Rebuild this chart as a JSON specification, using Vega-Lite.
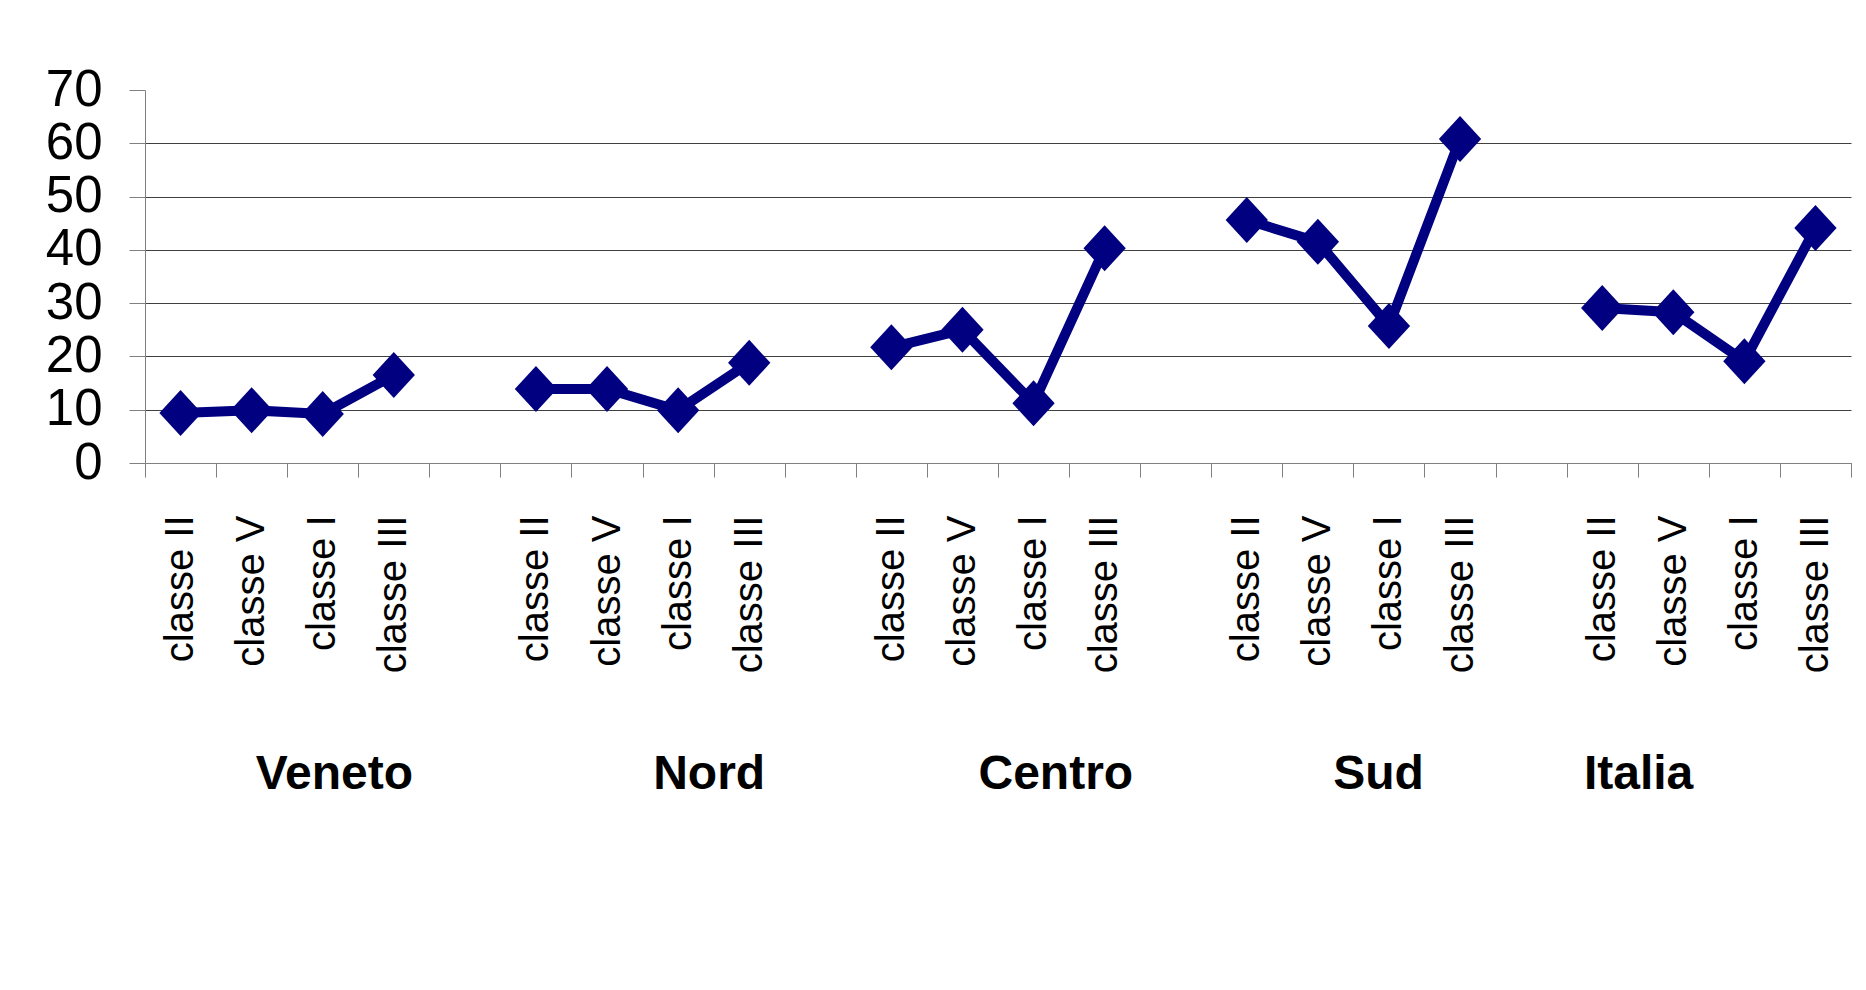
{
  "$schema": "https://vega.github.io/schema/vega-lite/v6.json",
  "width": 1706,
  "height": 373,
  "autosize": {"type": "none"},
  "padding": {"left": 145, "top": 90, "right": 15, "bottom": 527},
  "background": "white",
  "config": {"view": {"stroke": null}, "font": "Liberation Sans"},
  "data": {
    "values": [
      {"cat": "Veneto|classe II", "region": "Veneto", "val": 9.4},
      {"cat": "Veneto|classe V", "region": "Veneto", "val": 9.9},
      {"cat": "Veneto|classe I", "region": "Veneto", "val": 9.2},
      {"cat": "Veneto|classe III", "region": "Veneto", "val": 16.5},
      {"cat": "Nord|classe II", "region": "Nord", "val": 13.9},
      {"cat": "Nord|classe V", "region": "Nord", "val": 13.9},
      {"cat": "Nord|classe I", "region": "Nord", "val": 9.9},
      {"cat": "Nord|classe III", "region": "Nord", "val": 18.8},
      {"cat": "Centro|classe II", "region": "Centro", "val": 21.7},
      {"cat": "Centro|classe V", "region": "Centro", "val": 25.0},
      {"cat": "Centro|classe I", "region": "Centro", "val": 11.2},
      {"cat": "Centro|classe III", "region": "Centro", "val": 40.3},
      {"cat": "Sud|classe II", "region": "Sud", "val": 45.6},
      {"cat": "Sud|classe V", "region": "Sud", "val": 41.5},
      {"cat": "Sud|classe I", "region": "Sud", "val": 25.7},
      {"cat": "Sud|classe III", "region": "Sud", "val": 60.8},
      {"cat": "Italia|classe II", "region": "Italia", "val": 29.1},
      {"cat": "Italia|classe V", "region": "Italia", "val": 28.3},
      {"cat": "Italia|classe I", "region": "Italia", "val": 19.1},
      {"cat": "Italia|classe III", "region": "Italia", "val": 44.1}
    ]
  },
  "encoding": {
    "x": {
      "field": "cat",
      "type": "nominal",
      "sort": null,
      "scale": {
        "type": "band",
        "paddingInner": 0,
        "paddingOuter": 0,
        "domain": [
          "Veneto|classe II", "Veneto|classe V", "Veneto|classe I", "Veneto|classe III", "gap1",
          "Nord|classe II", "Nord|classe V", "Nord|classe I", "Nord|classe III", "gap2",
          "Centro|classe II", "Centro|classe V", "Centro|classe I", "Centro|classe III", "gap3",
          "Sud|classe II", "Sud|classe V", "Sud|classe I", "Sud|classe III", "gap4",
          "Italia|classe II", "Italia|classe V", "Italia|classe I", "Italia|classe III"
        ]
      },
      "axis": {
        "title": "Veneto\u00a0\u00a0\u00a0\u00a0\u00a0\u00a0\u00a0\u00a0\u00a0\u00a0\u00a0\u00a0\u00a0\u00a0\u00a0\u00a0\u00a0\u00a0Nord\u00a0\u00a0\u00a0\u00a0\u00a0\u00a0\u00a0\u00a0\u00a0\u00a0\u00a0\u00a0\u00a0\u00a0\u00a0\u00a0Centro\u00a0\u00a0\u00a0\u00a0\u00a0\u00a0\u00a0\u00a0\u00a0\u00a0\u00a0\u00a0\u00a0\u00a0\u00a0Sud\u00a0\u00a0\u00a0\u00a0\u00a0\u00a0\u00a0\u00a0\u00a0\u00a0\u00a0\u00a0Italia",
        "titleFontSize": 48,
        "titleFontWeight": "bold",
        "titleFont": "Liberation Sans",
        "titleColor": "black",
        "titleX": 829,
        "titleY": 325,
        "titleAlign": "center",
        "titleBaseline": "alphabetic",
        "labelExpr": "indexof(datum.label, '|') >= 0 ? split(datum.label, '|')[1] : ''",
        "labelAngle": -90,
        "labelFontSize": 40,
        "labelColor": "black",
        "labelPadding": 38,
        "labelOverlap": false,
        "labelBound": false,
        "tickSize": 14,
        "tickBand": "extent",
        "tickColor": "#808080",
        "domainColor": "#808080",
        "grid": false
      }
    },
    "y": {
      "field": "val",
      "type": "quantitative",
      "scale": {"domain": [0, 70], "nice": false, "zero": true},
      "axis": {
        "title": null,
        "values": [0, 10, 20, 30, 40, 50, 60, 70],
        "labelFontSize": 51,
        "labelColor": "black",
        "labelPadding": 27,
        "labelOverlap": false,
        "labelBound": false,
        "labelFlush": false,
        "tickSize": 16,
        "tickColor": "#808080",
        "domainColor": "#808080",
        "grid": true,
        "gridColor": "#404040",
        "gridOpacity": {"condition": {"test": "datum.value === 70", "value": 0}, "value": 1}
      }
    }
  },
  "layer": [
    {
      "mark": {"type": "line", "color": "#000080", "strokeWidth": 10},
      "encoding": {"detail": {"field": "region", "type": "nominal"}}
    },
    {
      "mark": {
        "type": "point",
        "shape": "M-0.92,0L0,-1L0.92,0L0,1Z",
        "size": 2116,
        "filled": true,
        "color": "#000080",
        "opacity": 1
      }
    }
  ]
}
